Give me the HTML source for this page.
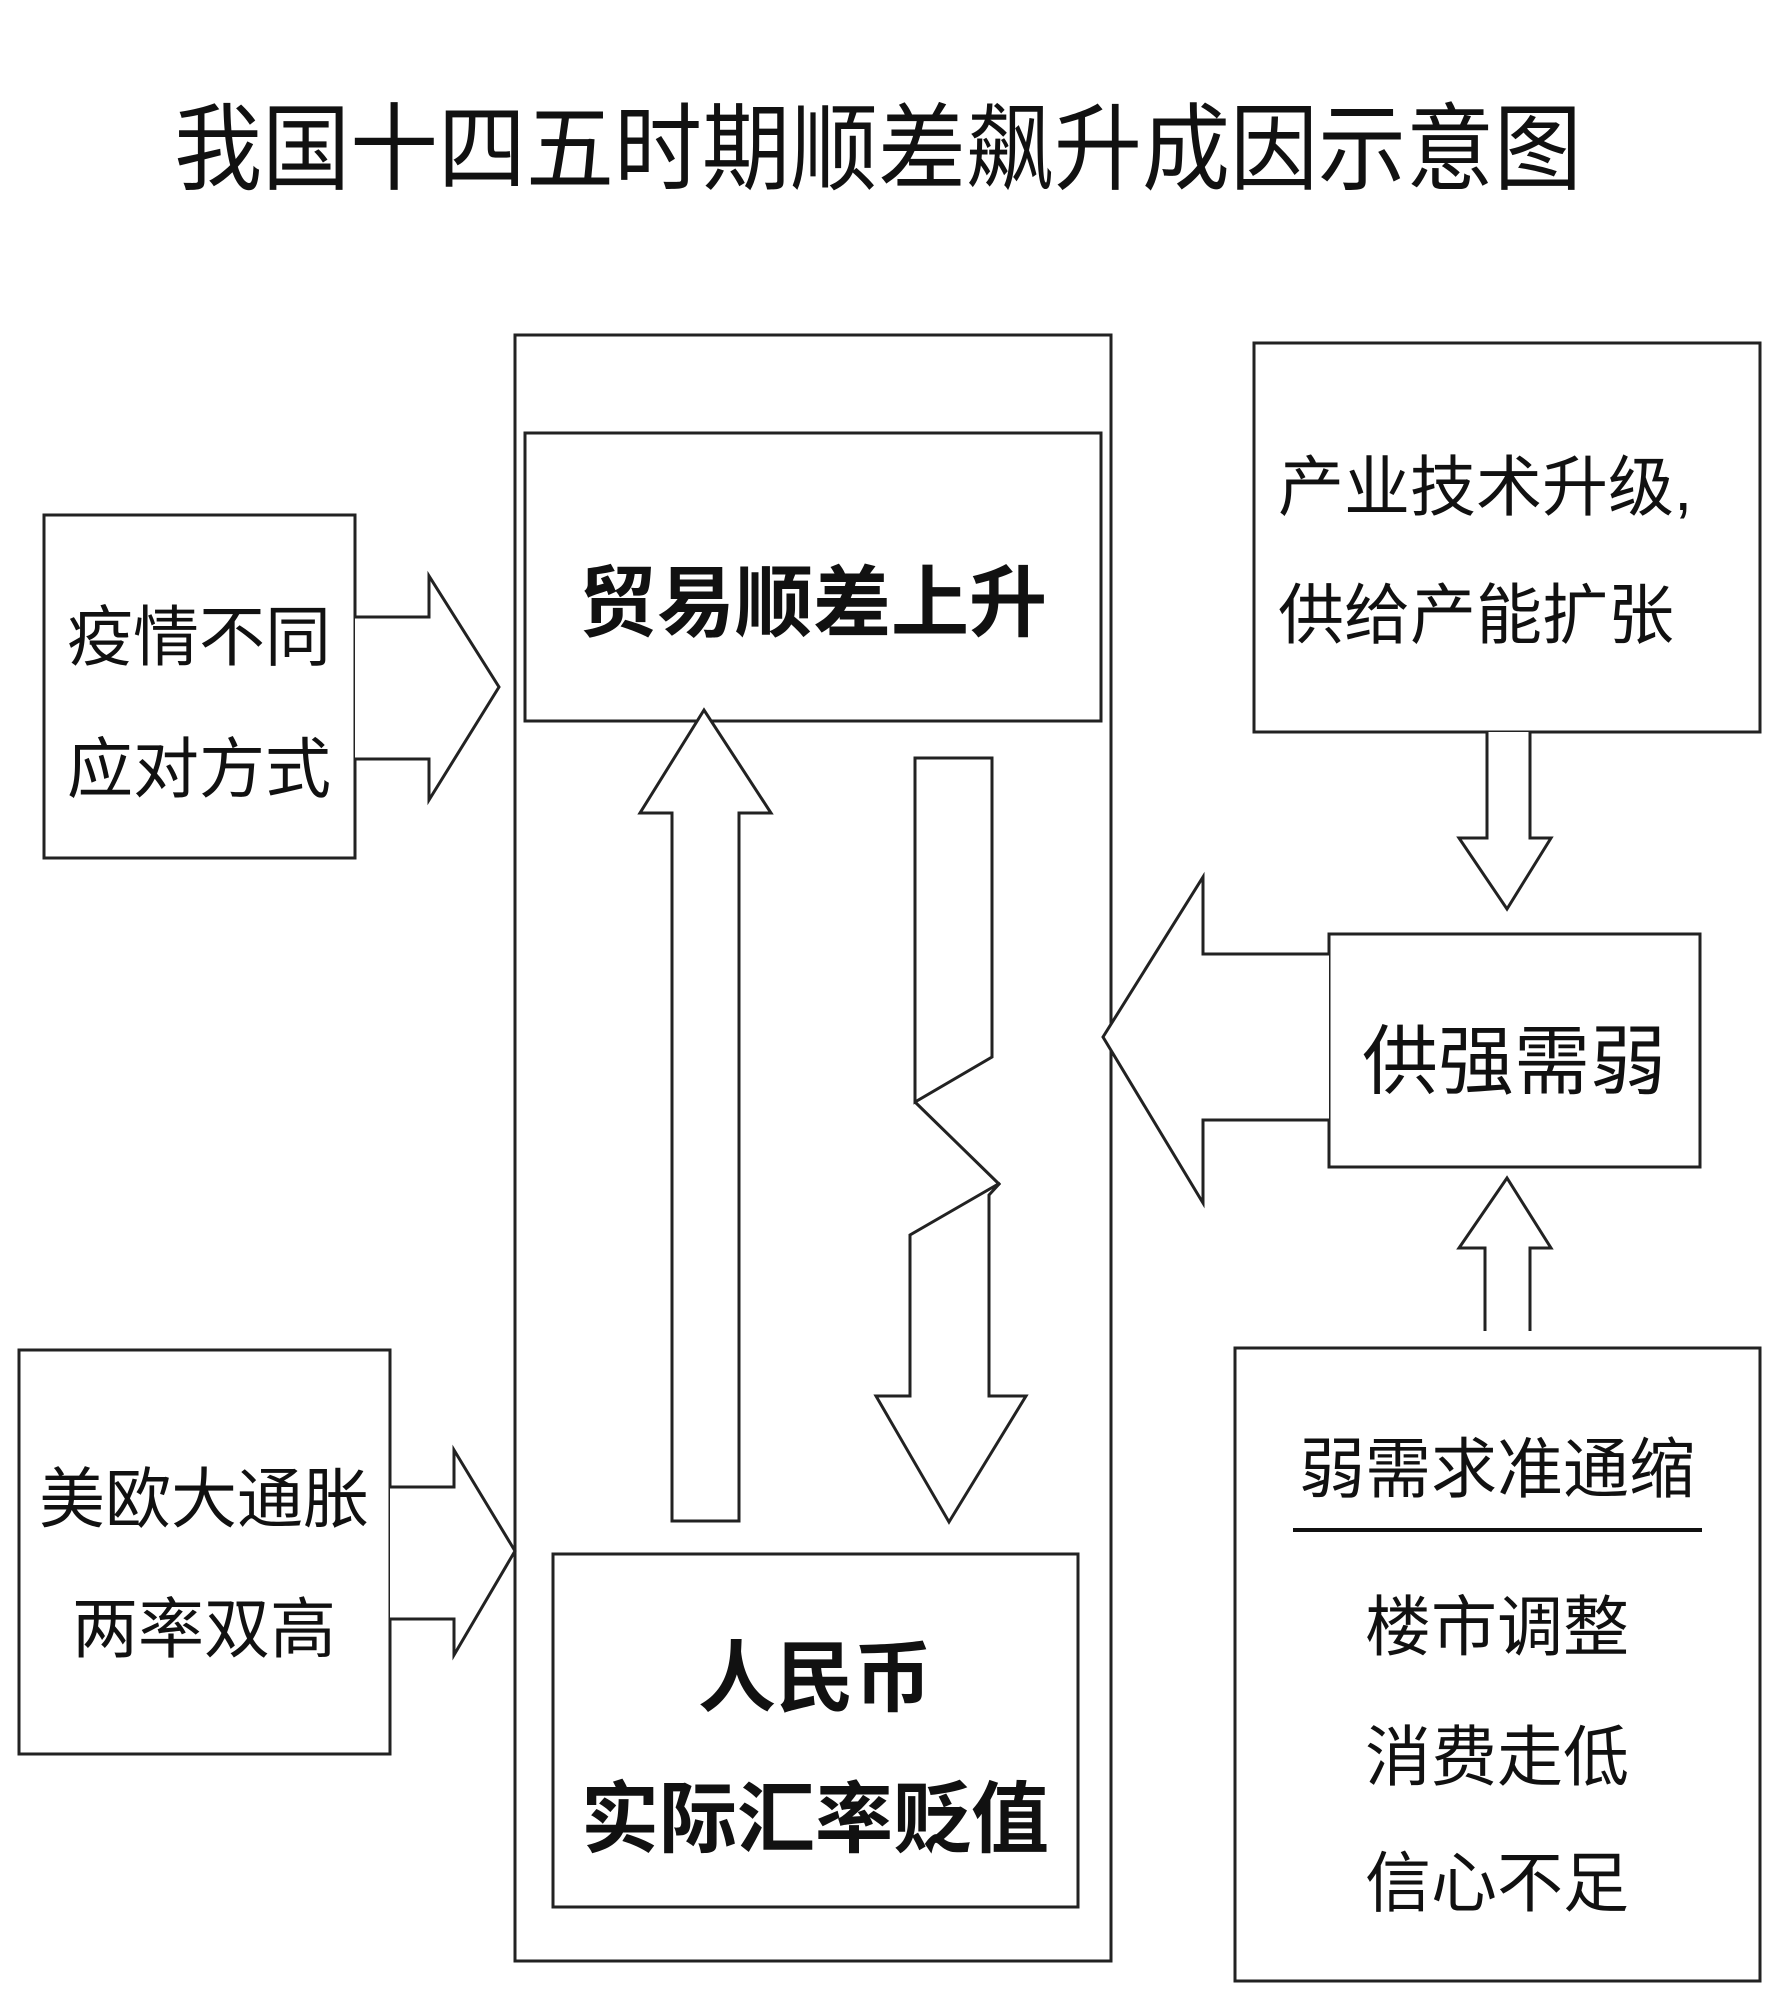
<!DOCTYPE html>
<html><head><meta charset="utf-8"><style>
body{margin:0;background:#fff;}
svg text{font-family:"Liberation Sans","Noto Sans CJK SC",sans-serif;fill:#111;}
</style></head><body>
<svg width="1771" height="2000" viewBox="0 0 1771 2000" xmlns="http://www.w3.org/2000/svg">
<g fill="none" stroke="#222" stroke-width="3">
<rect x="515" y="335" width="596" height="1626"/>
<rect x="525" y="433" width="576" height="288"/>
<rect x="553" y="1554" width="525" height="353"/>
<rect x="44" y="515" width="311" height="343"/>
<rect x="19" y="1350" width="371" height="404"/>
<rect x="1254" y="343" width="506" height="389"/>
<rect x="1329" y="934" width="371" height="233"/>
<rect x="1235" y="1348" width="525" height="633"/>
</g>
<g fill="#fff" stroke="#222" stroke-width="3" stroke-linejoin="miter">
<polyline points="355,617 429,617 429,576 499,687 429,800 429,759 355,759"/>
<polyline points="390,1487 454,1487 454,1450 515,1551 454,1655 454,1619 390,1619"/>
<polygon points="672,1521 672,813 640,813 704,710 771,813 739,813 739,1521"/>
<polygon points="915,1102 915,758 992,758 992,1057"/>
<polyline points="915,1102 1000,1185"/>
<polygon points="989,1195 1000,1183 910,1235 910,1396 876,1396 949,1522 1026,1396 989,1396"/>
<polyline points="1329,954 1203,954 1203,877 1103,1037 1203,1203 1203,1120 1329,1120"/>
<polyline points="1487,732 1487,838 1459,838 1507,909 1551,838 1530,838 1530,732"/>
<polyline points="1485,1331 1485,1248 1459,1248 1507,1178 1551,1248 1530,1248 1530,1331"/>
</g>
<line x1="1293" y1="1530" x2="1702" y2="1530" stroke="#111" stroke-width="4"/>
<text transform="translate(878,182) scale(1,1.08)" font-size="88" text-anchor="middle">我国十四五时期顺差飙升成因示意图</text>
<text x="813" y="630" font-size="78" font-weight="bold" text-anchor="middle">贸易顺差上升</text>
<text x="815" y="1705" font-size="78" font-weight="bold" text-anchor="middle">人民币</text>
<text x="815" y="1846" font-size="78" font-weight="bold" text-anchor="middle">实际汇率贬值</text>
<text x="199" y="660" font-size="66" text-anchor="middle">疫情不同</text>
<text x="199" y="792" font-size="66" text-anchor="middle">应对方式</text>
<text x="204" y="1522" font-size="66" text-anchor="middle">美欧大通胀</text>
<text x="204" y="1652" font-size="66" text-anchor="middle">两率双高</text>
<text x="1278" y="510" font-size="66">产业技术升级,</text>
<text x="1278" y="638" font-size="66">供给产能扩张</text>
<text x="1514" y="1088" font-size="76" text-anchor="middle">供强需弱</text>
<text x="1497" y="1492" font-size="66" text-anchor="middle">弱需求准通缩</text>
<text x="1497" y="1650" font-size="66" text-anchor="middle">楼市调整</text>
<text x="1497" y="1780" font-size="66" text-anchor="middle">消费走低</text>
<text x="1497" y="1906" font-size="66" text-anchor="middle">信心不足</text>
</svg>
</body></html>
